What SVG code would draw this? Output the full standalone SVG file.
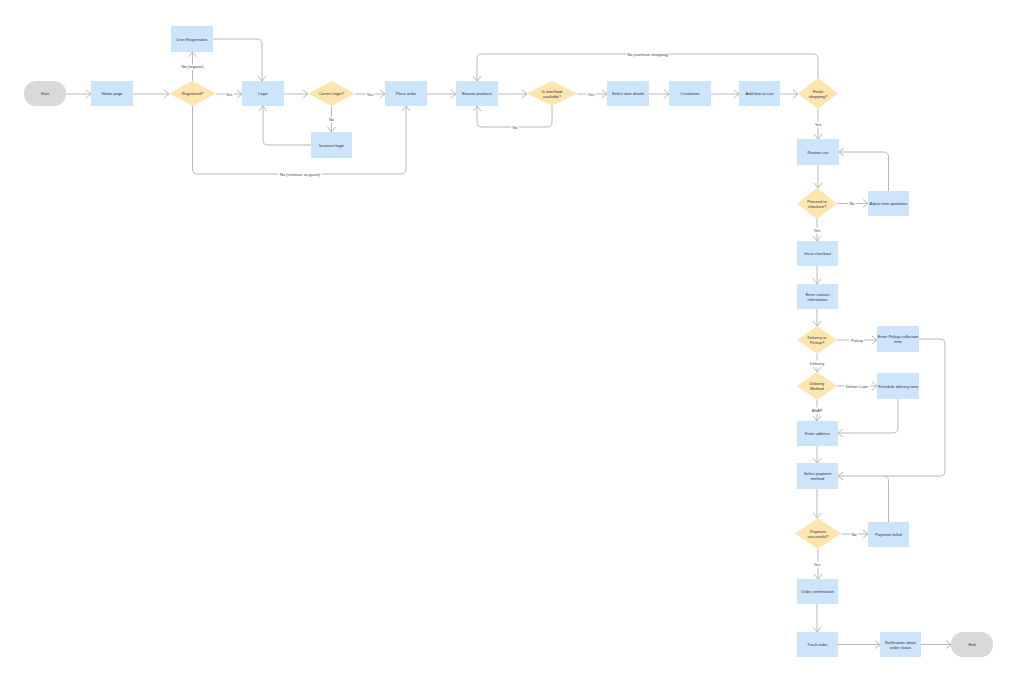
<svg xmlns="http://www.w3.org/2000/svg" width="1024" height="684" viewBox="0 0 1024 684">
<style>
.bg{fill:#ffffff}
.box{fill:#cde5fb}
.dia{fill:#fde5b0}
.term{fill:#d9d9d9}
.t{font-family:"Liberation Sans",Arial,sans-serif;font-size:4px;fill:#333;text-anchor:middle;dominant-baseline:central}
.c{fill:none;stroke:#b8b8b8;stroke-width:1}
.lbl{font-family:"Liberation Sans",Arial,sans-serif;font-size:4px;fill:#444;text-anchor:middle;dominant-baseline:central;stroke:#fff;stroke-width:3;paint-order:stroke}
</style>
<defs>
<marker id="a" markerWidth="8" markerHeight="10" refX="6" refY="5" orient="auto" markerUnits="userSpaceOnUse">
<path d="M1,1 L6,5 L1,9" fill="none" stroke="#b8b8b8" stroke-width="1"/>
</marker>
</defs>
<rect class="bg" width="1024" height="684"/>
<g id="connectors">
<path class="c" marker-end="url(#a)" d="M66,94 H91"/>
<path class="c" marker-end="url(#a)" d="M133,94 H169"/>
<path class="c" marker-end="url(#a)" d="M192.5,81 V52"/>
<path class="c" marker-end="url(#a)" d="M213,39 H257 Q262,39 262,44 V81"/>
<path class="c" marker-end="url(#a)" d="M216,94 H242"/>
<path class="c" marker-end="url(#a)" d="M284,94 H308"/>
<path class="c" marker-end="url(#a)" d="M331.5,106 V132"/>
<path class="c" marker-end="url(#a)" d="M311,145 H268 Q263,145 263,140 V106"/>
<path class="c" marker-end="url(#a)" d="M355,94 H385"/>
<path class="c" marker-end="url(#a)" d="M192.5,106 V169 Q192.5,174 197.5,174 H401 Q406,174 406,169 V106"/>
<path class="c" marker-end="url(#a)" d="M427,94 H456"/>
<path class="c" marker-end="url(#a)" d="M498,94 H527"/>
<path class="c" marker-end="url(#a)" d="M552,106 V122 Q552,127 547,127 H482 Q477,127 477,122 V106"/>
<path class="c" marker-end="url(#a)" d="M577,94 H607"/>
<path class="c" marker-end="url(#a)" d="M649,94 H669"/>
<path class="c" marker-end="url(#a)" d="M711,94 H739"/>
<path class="c" marker-end="url(#a)" d="M780,94 H798"/>
<path class="c" marker-end="url(#a)" d="M818,78 V59 Q818,54 813,54 H482 Q477,54 477,59 V81"/>
<path class="c" marker-end="url(#a)" d="M818,109 V139"/>
<path class="c" marker-end="url(#a)" d="M818,165 V188"/>
<path class="c" marker-end="url(#a)" d="M837,203.5 H868"/>
<path class="c" marker-end="url(#a)" d="M888.5,191 V157 Q888.5,152 883.5,152 H839"/>
<path class="c" marker-end="url(#a)" d="M817,219 V241"/>
<path class="c" marker-end="url(#a)" d="M817,266 V284"/>
<path class="c" marker-end="url(#a)" d="M817,309 V326"/>
<path class="c" marker-end="url(#a)" d="M837,340 H877"/>
<path class="c" marker-end="url(#a)" d="M817,354 V372"/>
<path class="c" marker-end="url(#a)" d="M837,386 H877"/>
<path class="c" marker-end="url(#a)" d="M817,400 V421"/>
<path class="c" marker-end="url(#a)" d="M898,399 V428 Q898,433 893,433 H838"/>
<path class="c" marker-end="url(#a)" d="M919,339 H940 Q945,339 945,344 V471 Q945,476 940,476 H838"/>
<path class="c" d="M888.5,522 V481 Q888.5,476 883.5,476"/>
<path class="c" marker-end="url(#a)" d="M817,446 V463"/>
<path class="c" marker-end="url(#a)" d="M817,489 V518"/>
<path class="c" marker-end="url(#a)" d="M841,534 H868"/>
<path class="c" marker-end="url(#a)" d="M818,549 V579"/>
<path class="c" marker-end="url(#a)" d="M817,604 V632"/>
<path class="c" marker-end="url(#a)" d="M838,644.5 H880"/>
<path class="c" marker-end="url(#a)" d="M921,644.5 H951"/>
<text class="lbl" x="192.5" y="66">No (register)</text>
<text class="lbl" x="229" y="94">Yes</text>
<text class="lbl" x="331.5" y="119">No</text>
<text class="lbl" x="370" y="94">Yes</text>
<text class="lbl" x="300" y="174">No (continue as guest)</text>
<text class="lbl" x="515" y="127">No</text>
<text class="lbl" x="591" y="94">Yes</text>
<text class="lbl" x="648" y="54">No (continue shopping)</text>
<text class="lbl" x="818" y="124">Yes</text>
<text class="lbl" x="852" y="203.5">No</text>
<text class="lbl" x="817" y="230">Yes</text>
<text class="lbl" x="857" y="340">Pickup</text>
<text class="lbl" x="817" y="363">Delivery</text>
<text class="lbl" x="857" y="386">Deliver Later</text>
<text class="lbl" x="817" y="410">ASAP</text>
<text class="lbl" x="854" y="534">No</text>
<text class="lbl" x="817" y="564">Yes</text>
</g>
<g id="start"><rect class="term" x="24" y="81" width="42" height="25" rx="12"/><text class="t" x="45" y="93.5">Start</text></g>
<g id="home"><rect class="box" x="91" y="81" width="42" height="25"/><text class="t" x="112" y="93.5">Home page</text></g>
<g id="registered"><polygon class="dia" points="192.5,81 216,93.5 192.5,106 169,93.5"/><text class="t" x="192.5" y="93.5">Registered?</text></g>
<g id="userreg"><rect class="box" x="171" y="26" width="42" height="26"/><text class="t" x="192" y="39">User Registration</text></g>
<g id="login"><rect class="box" x="242" y="81" width="42" height="25"/><text class="t" x="263" y="93.5">Login</text></g>
<g id="correct"><polygon class="dia" points="331.5,81 355,93.5 331.5,106 308,93.5"/><text class="t" x="331.5" y="93.5">Correct login?</text></g>
<g id="incorrect"><rect class="box" x="311" y="132" width="41" height="26"/><text class="t" x="331.5" y="145">Incorrect login</text></g>
<g id="placeorder"><rect class="box" x="385" y="81" width="42" height="25"/><text class="t" x="406" y="93.5">Place order</text></g>
<g id="browse"><rect class="box" x="456" y="81" width="42" height="25"/><text class="t" x="477" y="93.5">Browse products</text></g>
<g id="available"><polygon class="dia" points="552,81 577,93.5 552,106 527,93.5"/><text class="t" x="552" y="91">Is item/food</text><text class="t" x="552" y="96">available?</text></g>
<g id="select"><rect class="box" x="607" y="81" width="42" height="25"/><text class="t" x="628" y="93.5">Select item details</text></g>
<g id="customize"><rect class="box" x="669" y="81" width="42" height="25"/><text class="t" x="690" y="93.5">Customize</text></g>
<g id="addcart"><rect class="box" x="739" y="81" width="41" height="25"/><text class="t" x="759.5" y="93.5">Add item to cart</text></g>
<g id="finish"><polygon class="dia" points="818,78 838,93.5 818,109 798,93.5"/><text class="t" x="818" y="91">Finish</text><text class="t" x="818" y="96">shopping?</text></g>
<g id="review"><rect class="box" x="797" y="139" width="42" height="26"/><text class="t" x="818" y="152">Review cart</text></g>
<g id="proceed"><polygon class="dia" points="817,188 837,203.5 817,219 797,203.5"/><text class="t" x="817" y="201">Proceed to</text><text class="t" x="817" y="206">checkout?</text></g>
<g id="adjust"><rect class="box" x="868" y="191" width="41" height="25"/><text class="t" x="888.5" y="203.5">Adjust item quantities</text></g>
<g id="checkout"><rect class="box" x="797" y="241" width="41" height="25"/><text class="t" x="817.5" y="253.5">Go to checkout</text></g>
<g id="contact"><rect class="box" x="797" y="284" width="41" height="25"/><text class="t" x="817.5" y="294">Enter contact</text><text class="t" x="817.5" y="299">information</text></g>
<g id="delpick"><polygon class="dia" points="817,326 837,340 817,354 797,340"/><text class="t" x="817" y="337.5">Delivery or</text><text class="t" x="817" y="342.5">Pickup?</text></g>
<g id="pickuptime"><rect class="box" x="877" y="326" width="42" height="26"/><text class="t" x="898" y="336.5">Enter Pickup collection</text><text class="t" x="898" y="341.5">time</text></g>
<g id="method"><polygon class="dia" points="817,372 837,386 817,400 797,386"/><text class="t" x="817" y="383.5">Delivery</text><text class="t" x="817" y="388.5">Method</text></g>
<g id="schedule"><rect class="box" x="877" y="373" width="42" height="26"/><text class="t" x="898" y="386">Schedule delivery time</text></g>
<g id="address"><rect class="box" x="797" y="421" width="41" height="25"/><text class="t" x="817.5" y="433.5">Enter address</text></g>
<g id="payment"><rect class="box" x="797" y="463" width="41" height="26"/><text class="t" x="817.5" y="473.5">Select payment</text><text class="t" x="817.5" y="478.5">method</text></g>
<g id="paydecision"><polygon class="dia" points="818,518 841,533.5 818,549 795,533.5"/><text class="t" x="818" y="531">Payment</text><text class="t" x="818" y="536">successful?</text></g>
<g id="payfail"><rect class="box" x="868" y="522" width="41" height="25"/><text class="t" x="888.5" y="534.5">Payment failed</text></g>
<g id="confirm"><rect class="box" x="797" y="579" width="41" height="25"/><text class="t" x="817.5" y="591.5">Order confirmation</text></g>
<g id="track"><rect class="box" x="797" y="632" width="41" height="25"/><text class="t" x="817.5" y="644.5">Track order</text></g>
<g id="notify"><rect class="box" x="880" y="632" width="41" height="25"/><text class="t" x="900.5" y="642">Notification about</text><text class="t" x="900.5" y="647">order status</text></g>
<g id="end"><rect class="term" x="951" y="632" width="42" height="25" rx="12"/><text class="t" x="972" y="644.5">End</text></g>
</svg>
